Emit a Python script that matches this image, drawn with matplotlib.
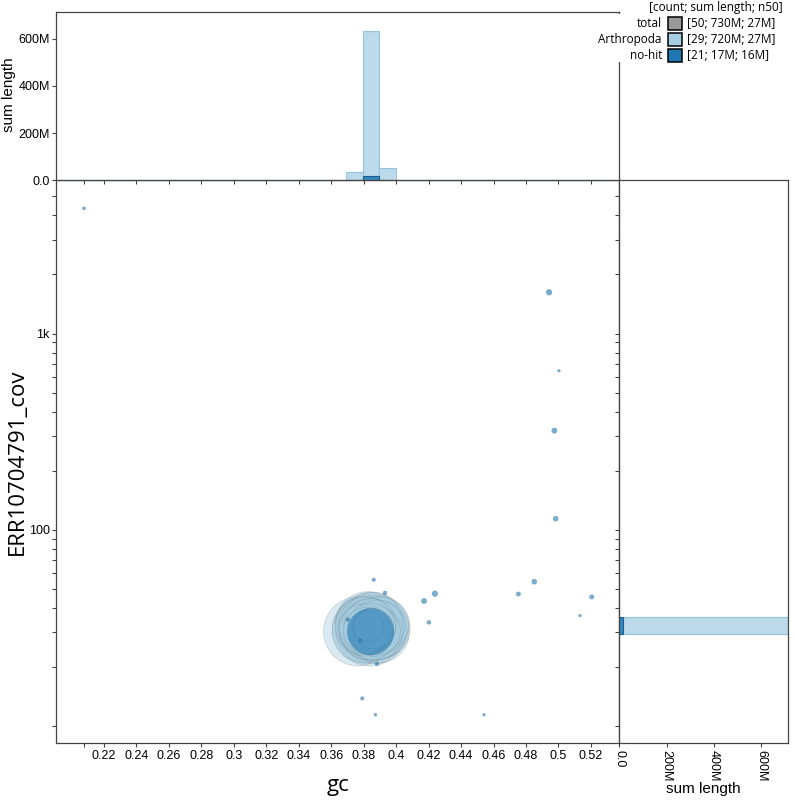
import numpy as np
import matplotlib
matplotlib.use('Agg')
import matplotlib.pyplot as plt
from matplotlib.patches import Rectangle
from matplotlib.ticker import FixedLocator, FixedFormatter

# ---------------- data ----------------
categories = ['total', 'Arthropoda', 'no-hit']
legend_stats = ['[50; 730M; 27M]', '[29; 720M; 27M]', '[21; 17M; 16M]']
cat_colors = ['#999999', '#a6cee3', '#1f78b4']
legend_title = '[count; sum length; n50]'

# Arthropoda contigs (gc, coverage, length in Mb)
arth_gc = [0.3765, 0.3839, 0.3814, 0.3863, 0.3826, 0.3876, 0.3802, 0.3851, 0.3888,
           0.3820, 0.3845, 0.3870, 0.3808, 0.3881, 0.3833, 0.3857, 0.3826, 0.3866,
           0.3814, 0.3884, 0.3840, 0.3803, 0.3873, 0.3848, 0.3818, 0.3860, 0.3830,
           0.3900, 0.3902]
arth_cov = [30.3, 30.1, 31.2, 30.6, 32.0, 31.6, 30.4, 33.1, 30.2,
            33.6, 31.0, 32.6, 32.3, 30.9, 30.5, 34.0, 31.4, 29.9,
            33.0, 32.0, 32.8, 31.0, 30.3, 31.9, 30.6, 31.3, 32.1,
            31.6, 32.7]
arth_len = [35, 34, 33, 32, 32, 31, 30, 30, 29,
            28, 27, 27, 26, 26, 25, 25, 24, 23,
            22, 21, 20, 19, 18, 17, 16, 12, 7,
            27, 24]

# no-hit contigs
nohit_gc = [0.3843, 0.2077, 0.4942, 0.5003, 0.4975, 0.4983, 0.4851, 0.4753, 0.5205,
            0.5133, 0.3862, 0.3931, 0.4239, 0.4172, 0.4202, 0.3702, 0.3779, 0.3882,
            0.3791, 0.3872, 0.4541]
nohit_cov = [30.2, 4345, 1622, 646, 320, 113.8, 54.3, 47.0, 45.4,
             36.5, 55.6, 47.6, 47.2, 43.3, 33.7, 34.8, 27.2, 20.7,
             13.8, 11.4, 11.4]
nohit_len = [16.0, 0.08, 0.25, 0.06, 0.22, 0.20, 0.20, 0.15, 0.15,
             0.06, 0.10, 0.12, 0.25, 0.22, 0.12, 0.12, 0.12, 0.12,
             0.10, 0.07, 0.06]

x_ticks = [0.2077, 0.22, 0.24, 0.26, 0.28, 0.30, 0.32, 0.34, 0.36, 0.38,
           0.40, 0.42, 0.44, 0.46, 0.48, 0.50, 0.52]
x_tick_labels = ['', '0.22', '0.24', '0.26', '0.28', '0.3', '0.32', '0.34', '0.36',
                 '0.38', '0.4', '0.42', '0.44', '0.46', '0.48', '0.5', '0.52']
y_major = [10, 100, 1000]
y_major_labels = ['', '100', '1k']
y_minor = [20, 30, 40, 50, 60, 70, 80, 90, 200, 300, 400, 500, 600, 700, 800, 900,
           2000, 3000, 4000, 5000]
hist_ticks = [0, 200, 400, 600]
hist_tick_labels = ['0.0', '200M', '400M', '600M']

# ---------------- layout ----------------
W, H = 794, 800
fig = plt.figure(figsize=(W / 100, H / 100), dpi=100)


def fx(px):
    return px / W


def fy(py):
    return 1 - py / H


L, R, T, B = 56, 619.3, 180.3, 743.3
TOP_T = 11.7
RIGHT_R = 788.3

ax = fig.add_axes([fx(L), fy(B), (R - L) / W, (B - T) / H])
ax_top = fig.add_axes([fx(L), fy(T), (R - L) / W, (T - TOP_T) / H])
ax_right = fig.add_axes([fx(R), fy(B), (RIGHT_R - R) / W, (B - T) / H])

XLIM = (0.1904, 0.5375)
YLIM = (8.15, 6040)
HLIM = 715

spine_col = '#444444'
tick_font = dict(family='Liberation Sans', size=9)

for a in (ax, ax_top, ax_right):
    for s in a.spines.values():
        s.set_color(spine_col)
        s.set_linewidth(0.9)
    a.tick_params(which='both', color=spine_col, width=0.8, length=3, direction='out', pad=1.5)

# ---------------- scatter ----------------
K = 70.6  # pt^2 per Mb
arth_s = np.array(arth_len) * K
order = np.argsort(arth_s)[::-1]
ax.scatter(np.array(arth_gc)[order], np.array(arth_cov)[order], s=arth_s[order],
           facecolor=(0.651, 0.808, 0.890, 0.42), edgecolor=(0.35, 0.35, 0.35, 0.22),
           linewidth=0.6, zorder=2)
nh_s = np.array(nohit_len) * K
order = np.argsort(nh_s)[::-1]
ax.scatter(np.array(nohit_gc)[order], np.array(nohit_cov)[order], s=nh_s[order],
           facecolor=(0.122, 0.471, 0.706, 0.6), edgecolor=(0.2, 0.3, 0.4, 0.25),
           linewidth=0.4, zorder=3)

ax.set_yscale('log')
ax.set_xlim(*XLIM)
ax.set_ylim(*YLIM)
ax.xaxis.set_major_locator(FixedLocator(x_ticks))
ax.xaxis.set_major_formatter(FixedFormatter(x_tick_labels))
ax.yaxis.set_major_locator(FixedLocator(y_major))
ax.yaxis.set_major_formatter(FixedFormatter(y_major_labels))
ax.yaxis.set_minor_locator(FixedLocator(y_minor))
ax.yaxis.set_minor_formatter(FixedFormatter([''] * len(y_minor)))
ax.tick_params(axis='x', which='minor', bottom=False)
for lab in ax.get_xticklabels() + ax.get_yticklabels():
    lab.set_fontfamily(tick_font['family'])
    lab.set_fontsize(tick_font['size'])

fig.text(fx((L + R) / 2), fy(786), 'gc', ha='center', va='center',
         family='Open Sans', size=16)
fig.text(fx(17), fy((T + B) / 2), 'ERR10704791_cov', ha='center', va='center',
         rotation=90, family='Open Sans', size=16)

# ---------------- histograms ----------------
gc_edges = 0.3691 + 0.01027 * np.arange(-18, 17)
cov_edges = 10 ** (1.4684 + 0.0851 * np.arange(-7, 28))

arth_hist_style = dict(facecolor=(0.651, 0.808, 0.890, 0.75), edgecolor='#93c3de', linewidth=0.8)
nohit_hist_style = dict(facecolor=(0.122, 0.471, 0.706, 0.85), edgecolor='#1a5d8e', linewidth=0.8)

ax_top.hist(arth_gc, bins=gc_edges, weights=arth_len, **arth_hist_style)
ax_top.hist(nohit_gc, bins=gc_edges, weights=nohit_len, **nohit_hist_style)
ax_top.set_xlim(*XLIM)
ax_top.set_ylim(0, HLIM)
ax_top.xaxis.set_major_locator(FixedLocator(x_ticks))
ax_top.tick_params(axis='x', labelbottom=False)
ax_top.yaxis.set_major_locator(FixedLocator(hist_ticks))
ax_top.yaxis.set_major_formatter(FixedFormatter(hist_tick_labels))
for lab in ax_top.get_yticklabels():
    lab.set_fontfamily(tick_font['family'])
    lab.set_fontsize(tick_font['size'])
fig.text(fx(9.5), fy(95), 'sum length', ha='center', va='center', rotation=90,
         family='Liberation Sans', size=11)

ax_right.hist(arth_cov, bins=cov_edges, weights=arth_len, orientation='horizontal',
              **arth_hist_style)
ax_right.hist(nohit_cov, bins=cov_edges, weights=nohit_len, orientation='horizontal',
              **nohit_hist_style)
ax_right.set_yscale('log')
ax_right.set_ylim(*YLIM)
ax_right.set_xlim(0, HLIM)
ax_right.yaxis.set_major_locator(FixedLocator(y_major))
ax_right.yaxis.set_minor_locator(FixedLocator(y_minor))
ax_right.tick_params(axis='y', which='both', labelleft=False)
ax_right.xaxis.set_major_locator(FixedLocator(hist_ticks))
ax_right.xaxis.set_major_formatter(FixedFormatter(hist_tick_labels))
for lab in ax_right.get_xticklabels():
    lab.set_fontfamily(tick_font['family'])
    lab.set_fontsize(tick_font['size'])
    lab.set_rotation(-90)
fig.text(fx((R + RIGHT_R) / 2), fy(789), 'sum length', ha='center', va='center',
         family='Liberation Sans', size=11)

# ---------------- legend ----------------
fig.add_artist(Rectangle((fx(598), fy(62)), fx(794) - fx(598), fy(14) - fy(62),
                         transform=fig.transFigure, facecolor='white', edgecolor='none',
                         zorder=5))
leg_font = dict(family='Open Sans', size=8.5)
fig.text(fx(783), fy(7.3), legend_title, ha='right', va='center', zorder=6, **leg_font)
row_y = [23.3, 39.2, 55.2]
for name, stat, col, yy in zip(categories, legend_stats, cat_colors, row_y):
    fig.text(fx(662), fy(yy), name, ha='right', va='center', zorder=6, **leg_font)
    fig.add_artist(Rectangle((fx(668.3), fy(yy + 6.3)), fx(681.7) - fx(668.3),
                             fy(yy - 6.3) - fy(yy + 6.3), transform=fig.transFigure,
                             facecolor=col, edgecolor='black', linewidth=1.1, zorder=6))
    fig.text(fx(687), fy(yy), stat, ha='left', va='center', zorder=6, **leg_font)

fig.savefig('out.png', dpi=100)
